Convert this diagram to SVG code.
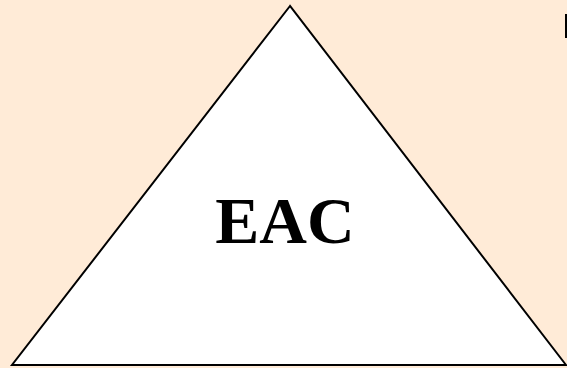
<svg xmlns="http://www.w3.org/2000/svg" width="567" height="368" viewBox="0 0 567 368">
<style>
.tri{fill:#fff;stroke:#000;stroke-width:2}
.lbl{font-weight:bold;font-size:66px;fill:#000}
</style>
<rect width="567" height="368" fill="#FFEBD7"/>
<g id="triangle">
<polygon class="tri" points="290,6 12,365 566,365"/>
<text class="lbl" x="285" y="243" text-anchor="middle" font-family="Liberation Serif, Tinos, Times New Roman, serif">EAC</text>
</g>
<rect x="565" y="14" width="2" height="24" fill="#000"/>
</svg>
